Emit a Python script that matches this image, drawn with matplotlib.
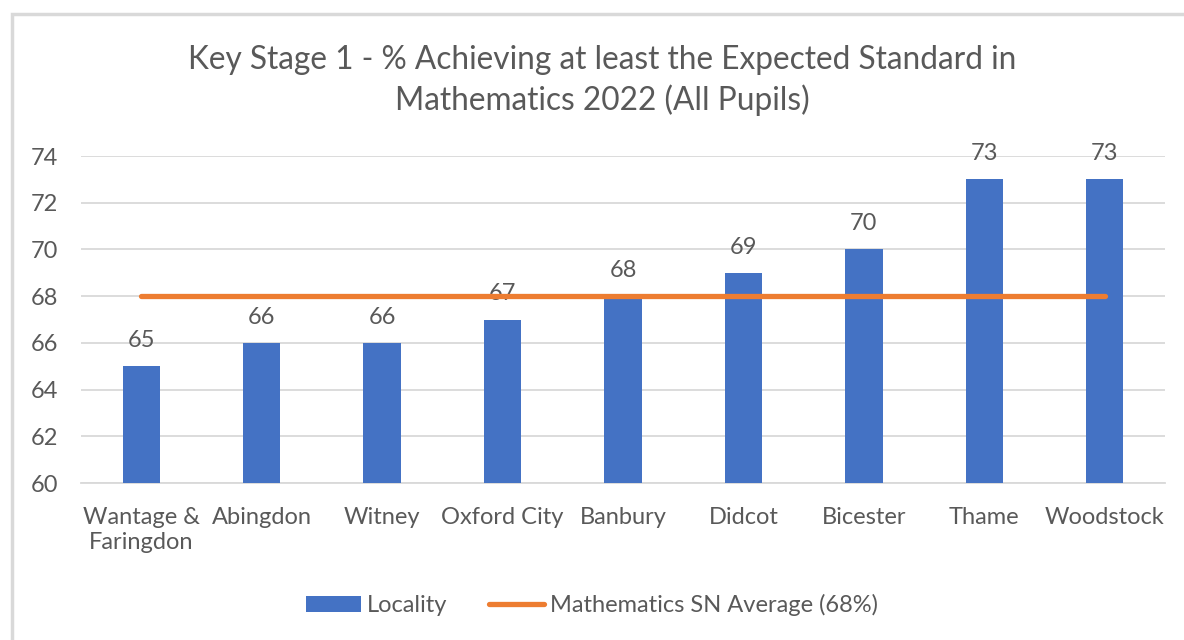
import matplotlib
matplotlib.use("Agg")
import matplotlib.pyplot as plt
from matplotlib.patches import Rectangle
from matplotlib.lines import Line2D
from matplotlib.patches import Patch

categories = ["Wantage &\nFaringdon", "Abingdon", "Witney", "Oxford City", "Banbury",
              "Didcot", "Bicester", "Thame", "Woodstock"]
locality = [65, 66, 66, 67, 68, 69, 70, 73, 73]
sn_average = [68, 68, 68, 68, 68, 68, 68, 68, 68]
yticks = [60, 62, 64, 66, 68, 70, 72, 74]

TXT = "#595959"
plt.rcParams['font.family'] = ['Lato', 'DejaVu Sans']
FS = 17

fig = plt.figure(figsize=(11.84, 6.4), dpi=100)
W, H = 1184, 640
# outer chart border
fig.patches.append(Rectangle((11.5 / W, -0.1), 1.2, (H - 13.5) / H + 0.1,
                             transform=fig.transFigure, fill=False,
                             edgecolor="#d9d9d9", linewidth=2.5))

ax = fig.add_axes([81 / W, 1 - 483 / H, (1165 - 81) / W, (483 - 156) / H])
x = list(range(len(categories)))
ax.bar(x, [v - 60 for v in locality], bottom=60, width=0.31, color="#4472C4", zorder=3)
ax.plot(x, sn_average, color="#ED7D31", linewidth=3.8, solid_capstyle="round", zorder=4)
for xi, v in zip(x, locality):
    ax.text(xi, v + 1.1, str(v), ha="center", va="center", fontsize=FS, color=TXT, zorder=2)

ax.set_xlim(-0.5, len(categories) - 0.5)
ax.set_ylim(60, 74)
ax.set_yticks(yticks)
ax.set_xticks(x)
ax.set_xticklabels(categories, fontsize=FS, color=TXT, linespacing=1.27)
ax.tick_params(axis="y", labelsize=FS, labelcolor=TXT, length=0, pad=16.5)
ax.tick_params(axis="x", length=0, pad=17)
ax.grid(axis="y", color="#d9d9d9", linewidth=1.3, zorder=0)
for s in ["top", "right", "left"]:
    ax.spines[s].set_visible(False)
ax.spines["bottom"].set_color("#d9d9d9")
ax.spines["bottom"].set_linewidth(1.3)

fig.text((188 + 1017) / 2 / W, 1 - 45 / H,
         "Key Stage 1 - % Achieving at least the Expected Standard in\nMathematics 2022 (All Pupils)",
         ha="center", va="top", fontsize=22.8, color=TXT, linespacing=1.36)

handles = [Patch(facecolor="#4472C4", edgecolor="none"),
           Line2D([0], [0], color="#ED7D31", linewidth=3.8, solid_capstyle="round")]
fig.legend(handles, ["Locality", "Mathematics SN Average (68%)"],
           loc="center", bbox_to_anchor=(0.5, 1 - 605 / H), ncol=2, frameon=False,
           fontsize=FS, labelcolor=TXT, handlelength=2.3, handleheight=0.65,
           handletextpad=0.25, columnspacing=1.8)

fig.savefig("out.png", dpi=100)
